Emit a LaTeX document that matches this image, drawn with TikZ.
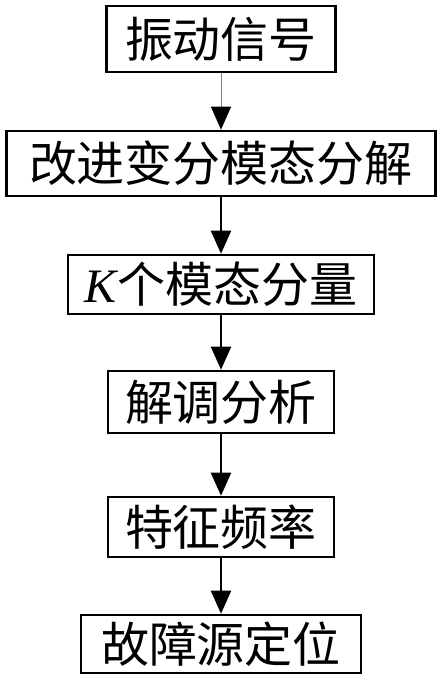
\documentclass[tikz,border=0pt]{standalone}
\usepackage{fontspec}
\setmainfont{Liberation Serif}
\newfontfamily\cjk{Noto Sans CJK SC}
\usetikzlibrary{arrows.meta}

\begin{document}
\begin{tikzpicture}[x=0.5pt,y=0.5pt,
        box/.style={draw, line width=1.3pt, inner sep=0pt, font=\cjk\fontsize{24}{24}\selectfont},
        flow/.style={-{Triangle[length=11.5pt,width=10pt,black]}, line width=1.1pt}]
        \useasboundingbox (0,0) rectangle (443,-681);

        \node[box, minimum width=114.5pt, minimum height=33pt] (signal) at (221,-39) {振动信号};
        \node[box, minimum width=214.5pt, minimum height=32.5pt] (ivmd) at (221,-163.5) {改进变分模态分解};
        \node[box, minimum width=153pt, minimum height=29.5pt] (modes) at (221,-284.5) {{\rmfamily\itshape K}个模态分量};
        \node[box, minimum width=113pt, minimum height=31pt] (demod) at (221,-402) {解调分析};
        \node[box, minimum width=113pt, minimum height=30pt] (freq) at (221,-527) {特征频率};
        \node[box, minimum width=140pt, minimum height=29pt] (locate) at (221,-644) {故障源定位};

        \draw[flow, line width=0.5pt, gray] (signal) -- (ivmd); % thin first link
        \draw[flow] (ivmd) -- (modes);
        \draw[flow] (modes) -- (demod);
        \draw[flow] (demod) -- (freq);
        \draw[flow] (freq) -- (locate);
    \end{tikzpicture}
\end{document}
